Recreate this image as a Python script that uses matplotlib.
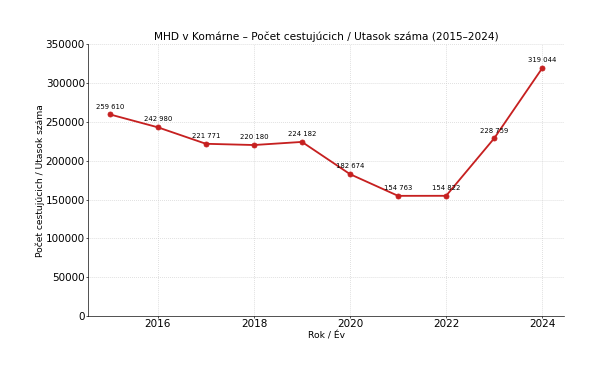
import matplotlib.pyplot as plt

# Data
years = [2015, 2016, 2017, 2018, 2019, 2020, 2021, 2022, 2023, 2024]
passengers = [259610, 242980, 221771, 220180, 224182, 182674, 154763, 154822, 228759, 319044]

fig, ax = plt.subplots(figsize=(5.96 * 100 / 60, 3.65 * 100 / 60), dpi=60)
fig.subplots_adjust(left=0.148, right=0.946, top=0.879, bottom=0.134)

ax.plot(years, passengers, color='#c62020', marker='o', markersize=6, linewidth=2.2)

for x, y in zip(years, passengers):
    ax.annotate(f"{y:,}".replace(",", " "), (x, y), textcoords='offset points',
                xytext=(0, 7), ha='center', fontsize=8.3)

ax.set_ylim(0, 350000)
ax.set_yticks(range(0, 350001, 50000))
ax.set_title('MHD v Komárne – Počet cestujúcich / Utasok száma (2015–2024)', fontsize=12.6, pad=5)
ax.set_xlabel('Rok / Év', fontsize=11, labelpad=2)
ax.set_ylabel('Počet cestujúcich / Utasok száma', fontsize=11, labelpad=1)
ax.tick_params(labelsize=12.5, length=2, pad=2)
ax.grid(True, linestyle=':', color='#cccccc', linewidth=0.9)
ax.spines['top'].set_visible(False)
ax.spines['right'].set_visible(False)

fig.savefig('out.png', dpi=60)
